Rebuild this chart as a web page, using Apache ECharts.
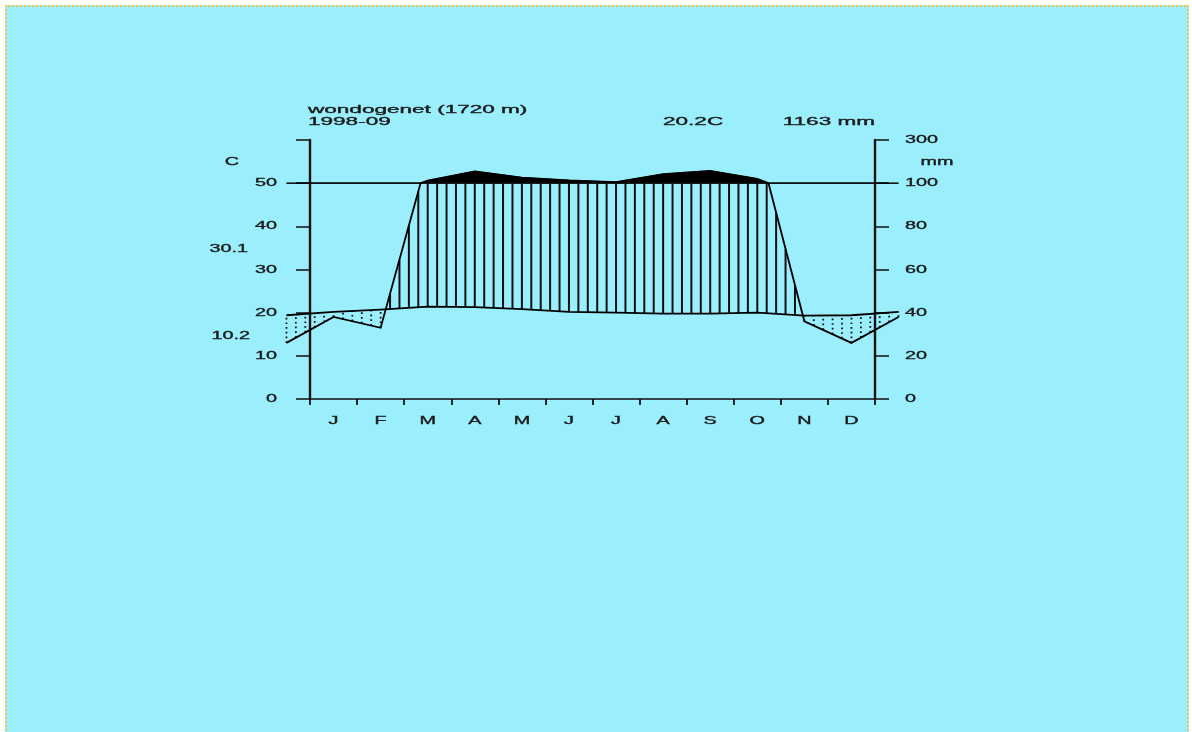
<!DOCTYPE html>
<html><head><meta charset="utf-8">
<script src="https://cdn.jsdelivr.net/npm/echarts@6/dist/echarts.min.js"></script>
<style>
html,body{margin:0;padding:0;background:#fff;width:1192px;height:732px;overflow:hidden}
#frame{position:absolute;left:5px;top:5px;width:1184px;height:730px;background:#9beffd;border-left:2px dotted #f4c542;border-top:2px dotted #f4c542;border-right:2px dotted #f4c542;box-sizing:border-box}
#chart{position:absolute;left:0;top:0;width:1192px;height:732px}
</style></head><body>
<div id="frame"></div><div id="chart"></div>
<script>
// ---- data ----
const months = ['J','F','M','A','M','J','J','A','S','O','N','D'];
const tempC = [20.2, 20.7, 21.4, 21.3, 20.8, 20.2, 20.0, 19.8, 19.8, 20.0, 19.3, 19.4];
const precipMm = [38, 33, 112, 155, 126, 113, 105, 142, 157, 120, 36, 26];
const tempTicks = [0, 10, 20, 30, 40, 50];
const precipTicks = [0, 20, 40, 60, 80, 100, 300];
const stationTitle = 'wondogenet (1720 m)';
const periodText = '1998-09';
const meanTempText = '20.2C';
const totalPrecipText = '1163 mm';
const maxWarmText = '30.1';
const minColdText = '10.2';

// precipitation display scale (Walter-Lieth): 20 mm = 10 C up to 100 mm, then compressed
const disp = v => v <= 100 ? v / 2 : 50 + (v - 100) / 20;

// wrap half a month on each side
const xs = [-0.5].concat(months.map((m, i) => i + 0.5), [12.5]);
const tW = [tempC[11]].concat(tempC, [tempC[0]]);
const pW = [precipMm[11]].concat(precipMm, [precipMm[0]]);

const tempLine = xs.map((x, i) => [x, tW[i]]);
const precLine = [];
for (let i = 0; i < xs.length; i++) {
  if (i > 0) {
    const a = pW[i - 1], b = pW[i];
    if ((a - 100) * (b - 100) < 0) {
      const f = (100 - a) / (b - a);
      precLine.push([xs[i - 1] + f * (xs[i] - xs[i - 1]), 50]);
    }
  }
  precLine.push([xs[i], disp(pW[i])]);
}
function interp(line, x) {
  for (let i = 1; i < line.length; i++) {
    if (x <= line[i][0] + 1e-9) {
      const x0 = line[i-1][0], y0 = line[i-1][1], x1 = line[i][0], y1 = line[i][1];
      return y0 + (y1 - y0) * (x - x0) / (x1 - x0);
    }
  }
  return line[line.length - 1][1];
}
const hatch = [];
for (let k = 0; k <= 65; k++) {
  const x = -0.5 + 0.2 * k;
  const t = interp(tempLine, x), p = interp(precLine, x);
  if (p > t) hatch.push([x, t, Math.min(p, 50), 0]);
  else hatch.push([x, p, t, 1]);
}

const chart = echarts.init(document.getElementById('chart'));
const axisCommon = {
  type: 'value', min: 0, max: 60, interval: 10,
  axisLine: { show: true, lineStyle: { color: '#111', width: 2.4 } },
  axisTick: { show: true, inside: false, length: 14, lineStyle: { color: '#111', width: 1.5 } },
  axisLabel: { show: false }, splitLine: { show: false }
};
function polylineSeries(line, z) {
  return {
    type: 'custom', coordinateSystem: 'cartesian2d', clip: false, silent: true, z: z,
    data: line,
    renderItem: (params, api) => {
      if (params.dataIndex !== 0) return null;
      return { type: 'polyline', shape: { points: line.map(p => api.coord(p)) },
        style: { stroke: '#000', lineWidth: 1.8, fill: null } };
    }
  };
}
chart.setOption({
  animation: false,
  backgroundColor: 'transparent',
  grid: { left: 310, right: 317, top: 140, bottom: 333 },
  xAxis: {
    type: 'value', min: 0, max: 12, interval: 1,
    axisLine: { show: true, onZero: false, lineStyle: { color: '#111', width: 1.6 } },
    axisTick: { show: true, inside: false, length: 6, lineStyle: { color: '#111', width: 1.8 } },
    axisLabel: { show: false }, splitLine: { show: false }
  },
  yAxis: [
    Object.assign({ position: 'left' }, axisCommon),
    Object.assign({ position: 'right' }, axisCommon)
  ],
  series: [
    {
      type: 'custom', coordinateSystem: 'cartesian2d', clip: false, silent: true, z: 2,
      data: hatch,
      renderItem: (params, api) => {
        const a = api.coord([api.value(0), api.value(1)]);
        const b = api.coord([api.value(0), api.value(2)]);
        const dry = api.value(3) === 1;
        return { type: 'line', shape: { x1: a[0], y1: a[1], x2: b[0], y2: b[1] },
          style: { stroke: '#111', lineWidth: dry ? 1.8 : 2, lineDash: dry ? [1.7, 3.0] : null } };
      }
    },
    {
      type: 'custom', coordinateSystem: 'cartesian2d', clip: false, silent: true, z: 3,
      data: [[0, 50]],
      renderItem: (params, api) => ({
        type: 'polygon',
        shape: { points: precLine.map(p => api.coord([p[0], Math.max(p[1], 50)])) },
        style: { fill: '#000', stroke: '#000', lineWidth: 1 }
      })
    },
    polylineSeries(precLine, 5),
    polylineSeries(tempLine, 5),
    {
      type: 'line', data: [[0, 50], [12, 50]], symbol: 'none', silent: true, z: 4,
      lineStyle: { color: '#111', width: 1.4 }
    }
  ]
});

// labels (horizontally stretched glyphs as in the reference) placed through the axes' scales
const font = '11px "Liberation Sans", Arial, sans-serif';
function txt(str, x, y, align, sx) {
  return { type: 'text', x: x, y: y, scaleX: sx, silent: true, z: 10,
    style: { text: str, font: font, fill: '#1a1a1a', stroke: '#1a1a1a', lineWidth: 0.35,
             align: align, verticalAlign: 'middle', textAlign: align, textVerticalAlign: 'middle' } };
}
const xL = chart.convertToPixel({ xAxisIndex: 0 }, 0);
const xR = chart.convertToPixel({ xAxisIndex: 0 }, 12);
const yPix = v => chart.convertToPixel({ yAxisIndex: 0 }, v);
const g = [];
tempTicks.forEach(v => g.push(txt(String(v), xL - 33, yPix(v), 'right', 1.8)));
precipTicks.forEach(v => g.push(txt(String(v), xR + 30, yPix(disp(v)), 'left', 1.8)));
months.forEach((m, i) => g.push(txt(m, chart.convertToPixel({ xAxisIndex: 0 }, i + 0.5), yPix(0) + 22, 'center', 1.8)));
g.push(txt('C', xL - 78, yPix(55), 'center', 1.8));
g.push(txt('mm', xR + 62, yPix(55), 'center', 1.8));
g.push(txt(maxWarmText, xL - 62, 249, 'right', 1.8));
g.push(txt(minColdText, xL - 60, 336, 'right', 1.8));
g.push(txt(stationTitle, xL - 2, 110, 'left', 2.05));
g.push(txt(periodText, xL - 2, 121.5, 'left', 2.05));
g.push(txt(meanTempText, 663, 121.5, 'left', 2.05));
g.push(txt(totalPrecipText, xR, 121.5, 'right', 2.05));
chart.setOption({ graphic: g });
</script>
</body></html>
